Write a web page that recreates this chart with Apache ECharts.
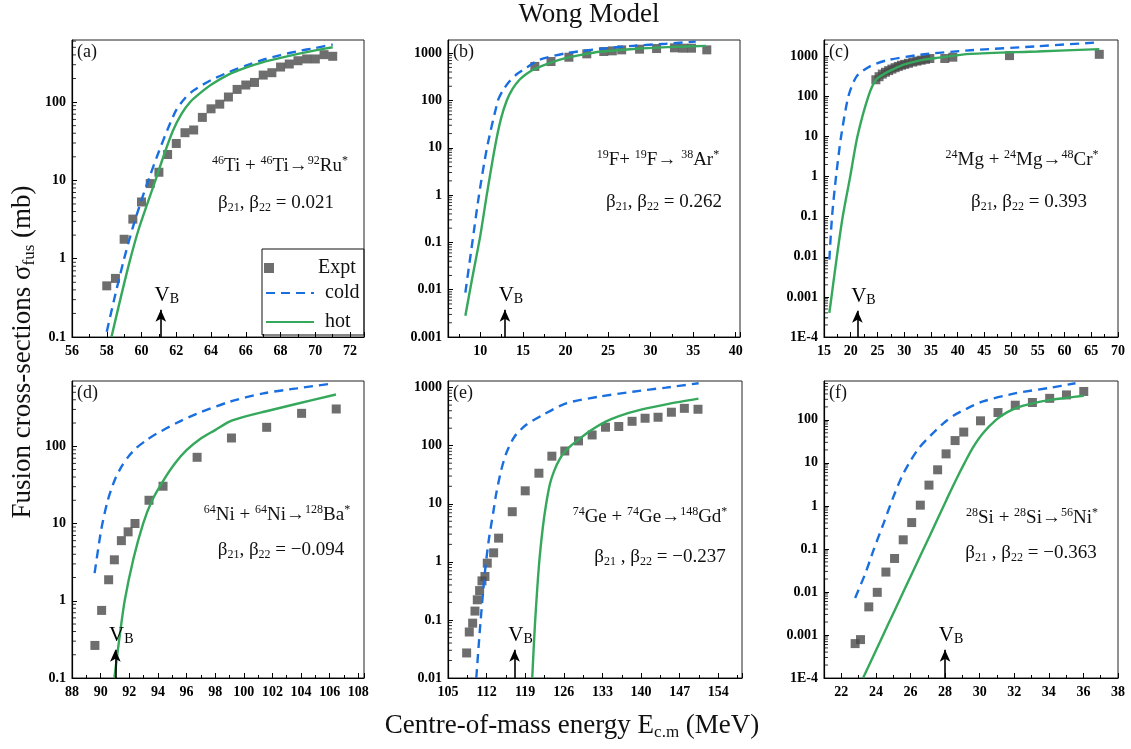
<!DOCTYPE html>
<html><head><meta charset="utf-8">
<script src="https://cdn.jsdelivr.net/npm/echarts@6/dist/echarts.min.js"></script>
<style>html,body{margin:0;padding:0;background:#fff}#c{width:1131px;height:749px}</style>
</head><body><div id="c"></div>
<script>
// ---------------- DATA ----------------
// (a) 46Ti + 46Ti
const aExptE = [58,58.5,59,59.5,60,60.5,61,61.5,62,62.5,63,63.5,64,64.5,65,65.5,66,66.5,67,67.5,68,68.5,69,69.5,70,70.5,71];
const aExptS = [0.45,0.56,1.77,3.2,5.3,9.1,12.7,21.4,29.6,40.6,44,63.7,82,94,116,145,165,178,221,237,280,306,337,355,355,403,384];
const aColdE = [58.0,58.5,59,59.5,60,60.5,61,61.5,62,62.5,63,64,65,66,67,68,69,70,71];
const aColdS = [0.117,0.355,1,2.51,5.62,11.7,23.4,44.7,79.4,112,141,191,240,292,347,398,447,490,543];
const aHotE  = [58.27,58.8,59.3,59.8,60.3,60.8,61.3,61.8,62.3,62.8,63.3,64,65,66,67,68,69,70,71];
const aHotS  = [0.1,0.316,0.891,2.24,4.79,10,21.4,42.7,70.8,100,126,166,224,275,324,367,412,457,501];
// (b) 19F + 19F
const bExptE = [16.4,18.3,20.4,22.5,24.5,25.5,26.6,28.7,30.7,32.8,33.8,34.8,36.6];
const bExptS = [525,666,822,968,1084,1120,1176,1215,1254,1297,1275,1275,1176];
const bColdE = [8.24,9.06,9.84,10.78,12.07,12.6,13.4,14.3,15.2,16.95,20.1,24,27.9,31.8,35.3];
const bColdS = [0.0087,0.1,1,10,100,158,251,363,468,724,1000,1230,1429,1585,1758];
const bHotE  = [8.24,9,10,10.75,11.7,12.4,13.1,13.8,14.6,15.4,16.2,18.1,20.1,22,24,28,32,36.5];
const bHotS  = [0.00282,0.0158,0.141,1,10,39.8,100,178,275,363,447,617,794,933,1072,1230,1340,1429];
// (c) 24Mg + 24Mg
const cExptE = [24.7,25.3,25.9,26.5,27.1,27.7,28.3,28.9,29.5,30.1,30.8,31.6,32.4,33.2,34.0,34.8,37.6,39.1,49.7,66.5];
const cExptS = [260,310,360,400,440,480,520,560,600,630,670,720,760,800,840,880,880,950,1040,1120];
const cColdE = [16,16.5,17.25,18.2,19.56,21.1,23.6,26.75,33,42.4,54.9,66.5];
const cColdS = [0.0085,0.1,1,10,100,316,562,794,1096,1413,1778,2239];
const cHotE  = [16,16.4,17.4,18.5,19.9,21.25,23.3,24.75,26.5,28,29.9,33,36.1,42.4,54.9,66.5];
const cHotS  = [0.000398,0.001,0.01,0.1,1,10,100,263,380,479,617,794,912,1148,1318,1514];
// (d) 64Ni + 64Ni
const dExptE = [89.6,90.07,90.56,90.96,91.45,91.92,92.4,93.38,94.36,96.74,99.14,101.6,104.04,106.46];
const dExptS = [0.264,0.75,1.87,3.39,6.0,7.8,10,20,30.4,72,128,176,267,304];
const dColdE = [89.58,90.05,90.5,91,91.5,92,92.5,93.2,93.9,95.3,96.7,99.03,101.36,103.7,106.3];
const dColdS = [2.28,8.51,20,37.2,56.2,75.9,95.5,120,145,200,263,378,484,562,653];
const dHotE  = [90.96,91.3,91.68,92.3,92.97,93.6,94.36,95.2,96,97,98,99,100,101.5,103.5,106.44];
const dHotS  = [0.1,0.316,1,3.55,10,20,35.5,60.3,89.1,126,162,209,240,282,347,468];
// (e) 74Ge + 74Ge
const eExptE = [108.38,108.86,109.47,109.89,110.31,110.73,111.16,111.7,112.12,113.27,114.17,116.65,119,121.48,123.83,126.18,128.66,131.13,133.55,135.96,138.37,140.73,143.08,145.5,147.85,150.32];
const eExptS = [0.027,0.062,0.088,0.142,0.222,0.32,0.47,0.56,0.95,1.43,2.56,7.3,16.7,33.6,66,81,121,153,208,214,263,297,309,377,440,424];
const eColdE = [110.13,110.73,111.34,111.8,112.4,113.2,113.75,114.65,115.56,117.07,119.18,122.2,126.4,132.46,138.5,144.5,150.44];
const eColdS = [0.01,0.0589,0.288,0.832,2.4,7.08,15.1,38,74.1,144,229,339,537,700,851,1000,1189];
const eHotE  = [120.27,120.75,121.5,122.2,122.8,123.5,124.3,125.2,126.2,127.4,129,131,133.5,136,140,145,150.4];
const eHotS  = [0.01,0.0794,0.891,3.98,10,22.4,38,57.5,79.4,102,135,186,257,324,417,525,646];
// (f) 28Si + 28Si
const fExptE = [22.8,23.11,23.59,24.08,24.58,25.08,25.58,26.07,26.57,27.07,27.57,28.06,28.58,29.08,30.05,31.06,32.06,33.05,34.05,35.02,36.02];
const fExptS = [0.00063,0.00078,0.0045,0.0098,0.029,0.06,0.163,0.41,1.04,3.04,6.9,16.2,33,52,95,148,219,253,316,380,457];
const fColdE = [22.8,23.4,23.87,24.45,25.0,25.5,26.0,26.5,27.2,27.9,28.5,29.2,30.2,32.1,34,35.54];
const fColdS = [0.00724,0.0275,0.0955,0.398,1.58,4.79,11.2,22.4,44.7,83.2,126,178,269,417,550,708];
const fHotE  = [23.26,24.26,25.2,26.17,27.13,28.08,28.65,29.13,29.6,30.19,30.95,31.6,32.3,33.24,34.2,35,36.02];
const fHotS  = [0.0001,0.000724,0.00468,0.0316,0.209,1.38,4.17,10,22.4,49,100,151,200,251,295,324,363];
// Coulomb barrier arrows (energy, arrow head value)
const vbE   = [61.11, 12.89, 21.25, 91.03, 117.07, 28.0];
const vbTip = [0.223, 0.00378, 0.000453, 0.232, 0.0307, 0.000454];
// axis ranges
const xMin  = [56, 6.2, 15, 88, 105, 21];
const xMax  = [72.8, 40.5, 70, 108.4, 158.3, 38];
const xStep = [2, 5, 5, 2, 7, 2];
const yMin  = [0.1, 0.001, 0.0001, 0.1, 0.01, 0.0001];
const yMax  = [620, 1900, 2550, 700, 1300, 800];
const logMinorMult = [2,3,4,5,6,7,8,9];
// texts
const panelTags = ['(a)','(b)','(c)','(d)','(e)','(f)'];
const reactions = [
  '{s|46}{n|Ti + }{s|46}{n|Ti\u2192}{s|92}{n|Ru}{s|*}',
  '{s|19}{n|F+ }{s|19}{n|F\u2192 }{s|38}{n|Ar}{s|*}',
  '{s|24}{n|Mg + }{s|24}{n|Mg\u2192}{s|48}{n|Cr}{s|*}',
  '{s|64}{n|Ni + }{s|64}{n|Ni\u2192}{s|128}{n|Ba}{s|*}',
  '{s|74}{n|Ge + }{s|74}{n|Ge\u2192}{s|148}{n|Gd}{s|*}',
  '{s|28}{n|Si + }{s|28}{n|Si\u2192}{s|56}{n|Ni}{s|*}'
];
const betas = [
  '{n|\u03b2}{b|21}{n|, \u03b2}{b|22}{n| = 0.021}',
  '{n|\u03b2}{b|21}{n|, \u03b2}{b|22}{n| = 0.262}',
  '{n|\u03b2}{b|21}{n|, \u03b2}{b|22}{n| = 0.393}',
  '{n|\u03b2}{b|21}{n|, \u03b2}{b|22}{n| = \u22120.094}',
  '{n|\u03b2}{b|21}{n| , \u03b2}{b|22}{n| = \u22120.237}',
  '{n|\u03b2}{b|21}{n| , \u03b2}{b|22}{n| = \u22120.363}'
];

// ---------------- LAYOUT / STYLE ----------------
const FONT = '"Liberation Serif","Times New Roman",serif';
const BLUE = '#1a6fe0', GREEN = '#35a85c', GREY = '#4a4a4a';
const G = [
  {left:72,  top:40,  width:292, height:297},
  {left:448, top:40,  width:292, height:297},
  {left:824, top:40,  width:294, height:297},
  {left:72,  top:381, width:292, height:297},
  {left:448, top:381, width:294, height:297},
  {left:824, top:381, width:294, height:297}
];
const reactPos = [[280,166],[658,160],[1022,160],[277,515],[650,517],[1032,518]];
const betaPos  = [[276,203],[664,202],[1029,202],[281,550],[660,557],[1031,553]];

const panels = [
  [aExptE,aExptS,aColdE,aColdS,aHotE,aHotS],
  [bExptE,bExptS,bColdE,bColdS,bHotE,bHotS],
  [cExptE,cExptS,cColdE,cColdS,cHotE,cHotS],
  [dExptE,dExptS,dColdE,dColdS,dHotE,dHotS],
  [eExptE,eExptS,eColdE,eColdS,eHotE,eHotS],
  [fExptE,fExptS,fColdE,fColdS,fHotE,fHotS]
];
const zip = (xs, ys) => xs.map((x, i) => [x, ys[i]]);

function niceLabel(v) {
  const l = Math.log10(v), e = Math.round(l);
  if (Math.abs(l - e) > 1e-6) return '';
  if (e <= -4) return '1E' + e;
  if (e < 0) return (Math.pow(10, e)).toFixed(-e);
  return String(Math.round(Math.pow(10, e)));
}
function minorTickValues(lo, hi) {
  const out = [];
  for (let e = Math.floor(Math.log10(lo)); e <= Math.ceil(Math.log10(hi)); e++) {
    logMinorMult.forEach(m => { const v = m * Math.pow(10, e); if (v > lo && v < hi) out.push(v); });
  }
  return out;
}

const grid = [], xAxis = [], yAxis = [], series = [];
for (let i = 0; i < 6; i++) {
  grid.push(Object.assign({show:true, borderColor:'#222', borderWidth:1, backgroundColor:'transparent', containLabel:false}, G[i]));
  const isNiceMin = Math.abs(xMin[i] / xStep[i] - Math.round(xMin[i] / xStep[i])) < 1e-9;
  const isNiceMax = Math.abs(xMax[i] / xStep[i] - Math.round(xMax[i] / xStep[i])) < 1e-9;
  xAxis.push({
    type:'value', gridIndex:i, min:xMin[i], max:xMax[i], minInterval:xStep[i], maxInterval:xStep[i], splitNumber:8,
    axisLine:{show:true, onZero:false, lineStyle:{color:'#000', width:1.2}},
    axisTick:{show:true, inside:true, length:5, lineStyle:{color:'#000', width:1}},
    minorTick:{show:true, splitNumber:2, length:3, lineStyle:{color:'#000', width:1}},
    splitLine:{show:false}, minorSplitLine:{show:false},
    axisLabel:{show:true, color:'#000', fontFamily:FONT, fontWeight:'bold', fontSize:14, margin:7,
               showMinLabel:isNiceMin, showMaxLabel:isNiceMax}
  });
  yAxis.push({
    type:'log', logBase:10, gridIndex:i, min:yMin[i], max:yMax[i], splitNumber:10,
    axisLine:{show:true, onZero:false, lineStyle:{color:'#000', width:1.2}},
    axisTick:{show:true, inside:true, length:5, lineStyle:{color:'#000', width:1}},
    minorTick:{show:false}, splitLine:{show:false},
    axisLabel:{show:true, color:'#000', fontFamily:FONT, fontWeight:'bold', fontSize:14, margin:6,
               showMaxLabel:false, formatter:niceLabel}
  });
  const p = panels[i];
  const xm = xMin[i];
  // log-axis minor ticks (2..9 per decade) drawn as tiny marks on the left axis
  series.push({
    name:'ytickminor' + i, type:'scatter', xAxisIndex:i, yAxisIndex:i, silent:true, z:1, clip:false,
    data:minorTickValues(yMin[i], yMax[i]).map(v => [xm, v]),
    symbol:'rect', symbolSize:[4, 1], symbolOffset:[2, 0], itemStyle:{color:'#000'}
  });
  series.push({
    name:'Expt', type:'scatter', xAxisIndex:i, yAxisIndex:i, data:zip(p[0], p[1]),
    symbol:'rect', symbolSize:9, itemStyle:{color:GREY}, z:2, silent:true,
    markLine:{
      silent:true, symbol:['none','arrow'], symbolSize:[8,12], animation:false,
      lineStyle:{color:'#000', width:1.6, type:'solid'},
      label:{show:true, position:'end', distance:3, formatter:'{v|V}{b|B}', padding:[0,0,0,12],
             rich:{v:{fontFamily:FONT, fontSize:21, color:'#000', lineHeight:22},
                   b:{fontFamily:FONT, fontSize:14, color:'#000', lineHeight:12, verticalAlign:'bottom'}}},
      data:[[{coord:[vbE[i], yMin[i]]}, {coord:[vbE[i], vbTip[i]]}]]
    }
  });
  series.push({
    name:'cold', type:'line', xAxisIndex:i, yAxisIndex:i, data:zip(p[2], p[3]),
    symbol:'none', showSymbol:false, smooth:0.25, z:3, silent:true,
    lineStyle:{color:BLUE, width:2.4, type:[9,6]}, itemStyle:{color:BLUE}
  });
  series.push({
    name:'hot', type:'line', xAxisIndex:i, yAxisIndex:i, data:zip(p[4], p[5]),
    symbol:'none', showSymbol:false, smooth:0.25, z:4, silent:true,
    lineStyle:{color:GREEN, width:2.4, type:'solid'}, itemStyle:{color:GREEN}
  });
}

const richNS = {
  n:{fontFamily:FONT, fontSize:19, fill:'#111', lineHeight:22},
  s:{fontFamily:FONT, fontSize:12, fill:'#111', lineHeight:12, verticalAlign:'top'},
  b:{fontFamily:FONT, fontSize:12, fill:'#111', lineHeight:9, verticalAlign:'bottom'}
};
const graphic = [];
for (let i = 0; i < 6; i++) {
  graphic.push({type:'text', x:G[i].left + 5, y:G[i].top + 12, silent:true,
    style:{text:panelTags[i], fontFamily:FONT, fontSize:18, fill:'#111', align:'left', verticalAlign:'middle'}});
  graphic.push({type:'text', x:reactPos[i][0], y:reactPos[i][1], silent:true,
    style:{text:reactions[i], rich:richNS, align:'center', verticalAlign:'middle'}});
  graphic.push({type:'text', x:betaPos[i][0], y:betaPos[i][1], silent:true,
    style:{text:betas[i], rich:richNS, align:'center', verticalAlign:'middle'}});
}
graphic.push({type:'rect', shape:{x:262, y:249, width:102, height:86}, silent:true, z:-1,
  style:{fill:'#fff', stroke:'#111', lineWidth:1}});
graphic.push({type:'text', x:589, y:15, silent:true,
  style:{text:'Wong Model', fontFamily:FONT, fontSize:27, fill:'#111', align:'center', verticalAlign:'middle'}});
graphic.push({type:'text', x:572, y:726, silent:true,
  style:{text:'{n|Centre-of-mass energy E}{b|c.m}{n| (MeV)}', align:'center', verticalAlign:'middle',
    rich:{n:{fontFamily:FONT, fontSize:27, fill:'#111', lineHeight:30},
          b:{fontFamily:FONT, fontSize:17, fill:'#111', lineHeight:12, verticalAlign:'bottom'}}}});
graphic.push({type:'text', x:23, y:352, rotation:Math.PI/2, silent:true,
  style:{text:'{n|Fusion cross-sections \u03c3}{b|fus}{n| (mb)}', align:'center', verticalAlign:'middle',
    rich:{n:{fontFamily:FONT, fontSize:27, fill:'#111', lineHeight:30},
          b:{fontFamily:FONT, fontSize:17, fill:'#111', lineHeight:12, verticalAlign:'bottom'}}}});

const option = {
  animation:false,
  backgroundColor:'#fff',
  grid, xAxis, yAxis, series, graphic,
  legend:[
    {data:['Expt'], left:264, top:258, orient:'vertical', itemWidth:10, itemHeight:10, padding:0,
     selectedMode:false, textStyle:{fontFamily:FONT, fontSize:20, color:'#111', padding:[0,0,0,39]}},
    {data:['cold','hot'], left:265, top:283, orient:'vertical', itemWidth:48, itemHeight:14, itemGap:9, padding:0,
     selectedMode:false, itemStyle:{color:'rgba(0,0,0,0)', borderWidth:0, opacity:0},
     textStyle:{fontFamily:FONT, fontSize:20, color:'#111', padding:[0,0,0,6]}}
  ]
};
const chart = echarts.init(document.getElementById('c'), null, {renderer:'canvas'});
chart.setOption(option);
</script></body></html>
